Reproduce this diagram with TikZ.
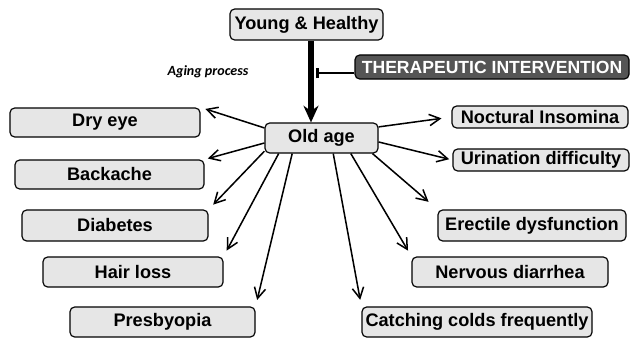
\documentclass[tikz,border=0pt]{standalone}
\usepackage{fontspec}
\setmainfont{Liberation Sans}
\newfontfamily\notefont{Carlito}
\usetikzlibrary{arrows.meta, calc}
\usepackage{xcolor}
\definecolor{stipple}{HTML}{E6E6E6}
\definecolor{therapydark}{HTML}{555555}

\begin{document}
\begin{tikzpicture}[
    x=0.3mm, y=-0.3mm,
    every node/.style={draw, rounded corners=4pt, inner sep=0pt, fill=stipple, line width=1pt, font=\fontsize{15.5}{17}\selectfont\bfseries, align=center},
    effect/.style={draw, line width=1.3pt, -{Straight Barb[length=3.2mm, width=3.4mm]}},
    aging/.style={draw, line width=4.3pt, -{Stealth[length=5mm, width=4.5mm, inset=1.6mm]}},
    inhibit/.style={draw, line width=1.3pt, -{Bar[width=3.2mm, line width=2.4pt]}},
]
\useasboundingbox (0,0) rectangle (631,339);

% top of the chain
\node[minimum width=45.9mm, minimum height=9.3mm] (young) at (306.5,24.5) {Young \& Healthy};
\node[draw=none, fill=none, font=\notefont\bfseries\itshape\fontsize{12}{14}\selectfont] (agingtxt) at (208,72) {Aging process};
\node[fill=therapydark, text=white, minimum width=82.2mm, minimum height=7.2mm, font=\fontsize{15}{17}\selectfont\bfseries] (therapy) at (492,67) {THERAPEUTIC INTERVENTION};
\node[minimum width=33.9mm, minimum height=9mm] (old) at (321.5,138) {Old age};

% left column
\node[minimum width=57mm, minimum height=8.7mm] (dryeye) at (105,122.5) {Dry eye};
\node[minimum width=56.7mm, minimum height=8.7mm] (backache) at (109.5,174.5) {Backache};
\node[minimum width=55.8mm, minimum height=9.3mm] (diabetes) at (115,225.5) {Diabetes};
\node[minimum width=54mm, minimum height=9mm] (hairloss) at (133,272) {Hair loss};
\node[minimum width=55.5mm, minimum height=9mm] (presbyopia) at (162.5,322) {Presbyopia};

% right column
\node[minimum width=52.8mm, minimum height=6.6mm] (noctural) at (540,117) {Noctural Insomina};
\node[minimum width=52.8mm, minimum height=6.6mm] (urination) at (541,160) {Urination difficulty};
\node[minimum width=56.4mm, minimum height=9.3mm] (erectile) at (532,225.5) {Erectile dysfunction};
\node[minimum width=58.8mm, minimum height=9mm] (nervous) at (510,272) {Nervous diarrhea};
\node[minimum width=69mm, minimum height=9mm] (catching) at (477,322) {Catching colds frequently};

% aging and the block on it
\draw[aging] ([xshift=1.35mm]young.south) -- ([xshift=1.35mm]young.south |- old.north);
\coordinate (block) at (316,73);
\draw[inhibit] (therapy.west |- block) -- (block);

% effects of old age
\draw[effect, shorten >=1.5mm] (old.170) -- (dryeye.north east);
\draw[effect, shorten >=1mm] (old.185) -- (backache.north east);
\draw[effect, shorten >=2mm] (old.193) -- (diabetes.north east);
\draw[effect, shorten >=2mm] (old.200) -- (hairloss.north east);
\draw[effect, shorten >=2mm] (old.208) -- (presbyopia.north east);
\draw[effect, shorten >=3mm] (old.11) -- (noctural.west);
\draw[effect, shorten >=1mm] (old.356) -- (urination.west);
\draw[effect, shorten >=3.5mm] (old.343) -- (erectile.north west);
\draw[effect, shorten >=2mm] (old.332) -- (nervous.north west);
\draw[effect, shorten >=2mm] (old.307) -- (catching.north west);

\end{tikzpicture}
\end{document}
